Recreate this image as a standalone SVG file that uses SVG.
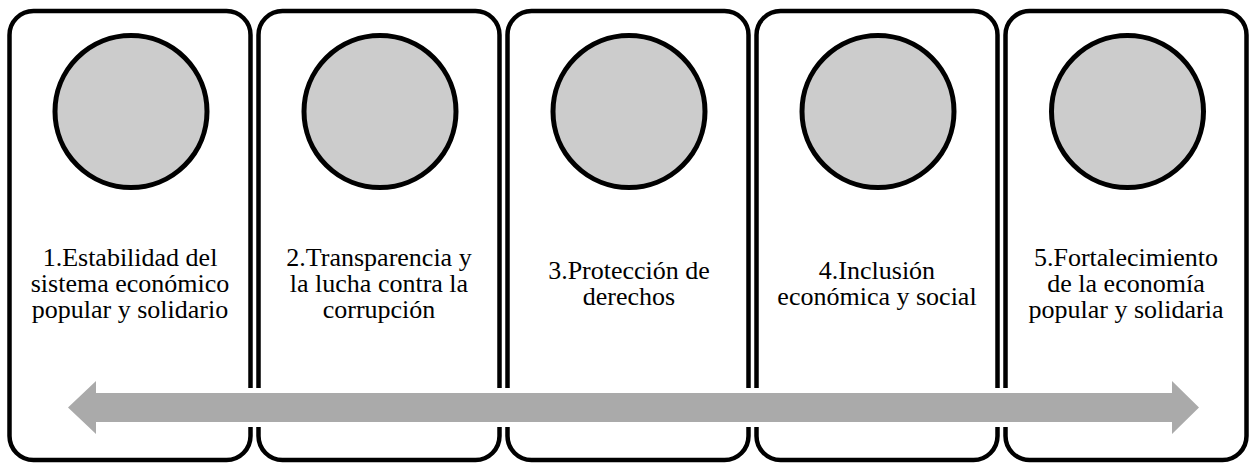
<svg xmlns="http://www.w3.org/2000/svg" width="1250" height="464" viewBox="0 0 1250 464">
<style>
.box{fill:#ffffff;stroke:#000000;stroke-width:4.5}
.dot{fill:#cccccc;stroke:#000000;stroke-width:5}
.lbl{font-family:"Liberation Serif","Times New Roman",serif;font-size:26px;fill:#000000;text-anchor:middle}
.arrow{fill:#aaaaaa;stroke:#ffffff;stroke-width:10;stroke-linejoin:miter;paint-order:stroke}
</style>
<rect width="1250" height="464" fill="#ffffff"/>
<g id="node1">
<rect class="box" x="9.5" y="11" width="241" height="449" rx="24" ry="24"/>
<circle class="dot" cx="131" cy="111.5" r="76"/>
<text class="lbl"><tspan x="130" y="266">1.Estabilidad del</tspan><tspan x="130" y="292">sistema económico</tspan><tspan x="130" y="318">popular y solidario</tspan></text>
</g>
<g id="node2">
<rect class="box" x="258.5" y="11" width="241" height="449" rx="24" ry="24"/>
<circle class="dot" cx="380" cy="111.5" r="76"/>
<text class="lbl"><tspan x="379" y="266">2.Transparencia y</tspan><tspan x="379" y="292">la lucha contra la</tspan><tspan x="379" y="318">corrupción</tspan></text>
</g>
<g id="node3">
<rect class="box" x="507.5" y="11" width="241" height="449" rx="24" ry="24"/>
<circle class="dot" cx="629" cy="111.5" r="76"/>
<text class="lbl"><tspan x="629" y="279">3.Protección de</tspan><tspan x="629" y="305">derechos</tspan></text>
</g>
<g id="node4">
<rect class="box" x="756.5" y="11" width="241" height="449" rx="24" ry="24"/>
<circle class="dot" cx="878" cy="111.5" r="76"/>
<text class="lbl"><tspan x="877" y="279">4.Inclusión</tspan><tspan x="877" y="305">económica y social</tspan></text>
</g>
<g id="node5">
<rect class="box" x="1005.5" y="11" width="241" height="449" rx="24" ry="24"/>
<circle class="dot" cx="1127.5" cy="111.5" r="76"/>
<text class="lbl"><tspan x="1126" y="266">5.Fortalecimiento</tspan><tspan x="1126" y="292">de la economía</tspan><tspan x="1126" y="318">popular y solidaria</tspan></text>
</g>
<g id="connectors">
<path class="arrow" d="M68,407.5 L96,381 L96,393 L1172,393 L1172,381 L1199,407.5 L1172,434 L1172,422 L96,422 L96,434 Z"/>
</g>
</svg>
